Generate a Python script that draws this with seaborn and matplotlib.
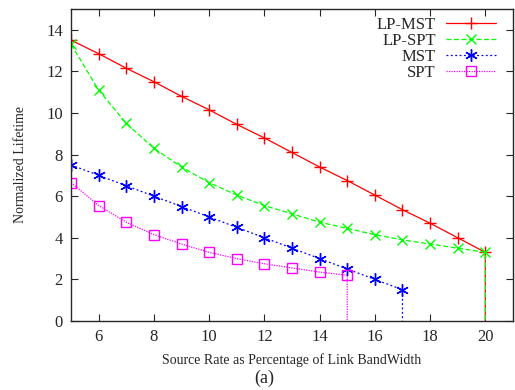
import numpy as np
import pandas as pd
import matplotlib
matplotlib.use("Agg")
import matplotlib.pyplot as plt
import seaborn as sns

# data
rate = [5, 6, 7, 8, 9, 10, 11, 12, 13, 14, 15, 16, 17, 18, 19, 20]
lp_mst = [13.5, 12.85, 12.15, 11.5, 10.8, 10.15, 9.45, 8.8, 8.1, 7.4, 6.75, 6.05, 5.35, 4.7, 4.0, 3.3]
lp_spt = [13.3, 11.1, 9.5, 8.3, 7.4, 6.65, 6.05, 5.55, 5.15, 4.75, 4.45, 4.15, 3.9, 3.7, 3.5, 3.3]
mst = [7.5, 7.0, 6.5, 6.0, 5.5, 5.0, 4.5, 4.0, 3.5, 3.0, 2.5, 2.0, 1.5]
spt = [6.65, 5.55, 4.75, 4.15, 3.7, 3.3, 3.0, 2.75, 2.55, 2.35, 2.2]

series = [
    ("LP-MST", lp_mst, "#ff0000", "-", "+", 9),
    ("LP-SPT", lp_spt, "#00ff00", (0, (4, 2)), "x", 7),
    ("MST", mst, "#0000ff", (0, (1.5, 2)), (6, 2, 0), 9),
    ("SPT", spt, "#ff00ff", (0, (1, 1)), "s", 7),
]

sns.set_style("ticks")
plt.rcParams["font.family"] = ["Liberation Serif", "DejaVu Serif"]

fig = plt.figure(figsize=(5.15, 3.9), dpi=100)
ax = fig.add_axes([0.138, 0.177, 0.858, 0.8])

for name, vals, color, ls, mk, ms in series:
    # the curve drops to zero where the series ends
    x = rate[:len(vals)] + [rate[len(vals) - 1]]
    y = vals + [0]
    df = pd.DataFrame({"x": x, "y": y})
    sns.lineplot(data=df, x="x", y="y", ax=ax, color=color, linestyle=ls,
                 estimator=None, sort=False,
                 linewidth=0.9, marker=mk, markersize=ms,
                 markerfacecolor="none" if mk == "s" else color,
                 markeredgecolor=color, markeredgewidth=1.0,
                 markevery=list(range(len(vals))), label=name)

ax.set_xlim(5, 21)
ax.set_ylim(0, 15)
ax.set_xticks([6, 8, 10, 12, 14, 16, 18, 20])
ax.set_yticks([0, 2, 4, 6, 8, 10, 12, 14])
ax.tick_params(direction="in", top=True, right=True, labelsize=12, length=5, width=0.8, pad=6)
for s in ax.spines.values():
    s.set_linewidth(1.0)
    s.set_visible(True)

ax.set_xlabel("Source Rate as Percentage of Link BandWidth", fontsize=10, labelpad=6)
ax.set_ylabel("Normalized Lifetime", fontsize=10, labelpad=14)
fig.text(0.513, 0.03, "(a)", fontsize=13, ha="center", va="center")

leg = ax.legend(loc="upper right", frameon=False, markerfirst=False, fontsize=12,
                handlelength=3.0, handletextpad=0.6, labelspacing=0.0,
                borderaxespad=0.1, bbox_to_anchor=(0.98, 1.0))
for t in leg.get_texts():
    t.set_ha("right")

fig.savefig("out.png", dpi=100)
